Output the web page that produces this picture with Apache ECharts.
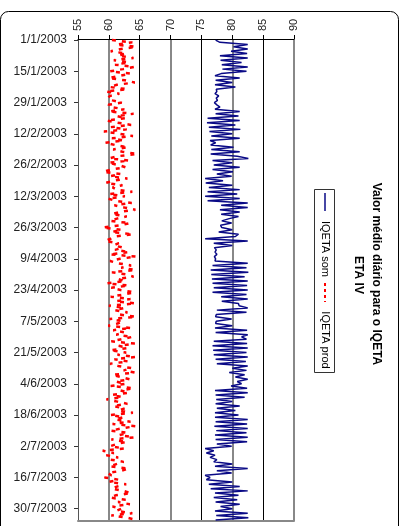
<!DOCTYPE html>
<html>
<head>
<meta charset="utf-8">
<script src="https://cdn.jsdelivr.net/npm/echarts@6/dist/echarts.min.js"></script>
<style>
  html, body { margin: 0; padding: 0; background: #fff; }
  #chart { width: 402px; height: 526px; }
</style>
</head>
<body>
<div id="chart"></div>
<script>
// Daily mean IQETA values, ETA IV, from 1/1/2003 (216 days)
const startDay = Date.UTC(2003, 0, 1);
const dayCount = 216;
const dates = [];
for (let i = 0; i < dayCount; i++) {
  const d = new Date(startDay + i * 86400000);
  dates.push(d.getUTCDate() + '/' + (d.getUTCMonth() + 1) + '/' + d.getUTCFullYear());
}

const seriesNames = ['IQETA som', 'IQETA prod'];
const valueTicks = [55, 60, 65, 70, 75, 80, 85, 90];

const iqetaSom = [
  77.3, 78.0, 82.5, 80.2, 82.5, 79.8, 82.4, 78.0, 82.5, 78.1,
  81.5, 78.3, 82.5, 78.4, 82.3, 78.2, 77.2, 81.2, 77.3, 80.0,
  77.2, 80.5, 77.4, 77.5, 77.2, 77.8, 77.4, 77.6, 77.1, 77.5,
  78.0, 77.2, 81.2, 77.3, 81.0, 76.0, 81.2, 75.9, 80.5, 76.2,
  81.3, 76.3, 80.0, 76.6, 81.2, 76.4, 77.3, 76.5, 80.2, 76.6,
  81.2, 76.5, 80.8, 82.6, 76.8, 80.0, 77.0, 81.2, 76.8, 80.1,
  77.5, 79.9, 75.6, 78.5, 75.7, 80.0, 76.2, 81.2, 76.0, 80.8,
  75.6, 81.2, 76.0, 82.5, 78.2, 82.5, 78.0, 81.2, 78.2, 81.0,
  79.5, 78.3, 79.9, 78.1, 78.3, 80.0, 77.8, 81.0, 80.5, 75.6,
  82.5, 77.0, 80.0, 77.1, 77.4, 77.2, 77.5, 77.1, 77.3, 77.2,
  82.5, 76.8, 82.3, 76.5, 82.6, 76.6, 82.0, 76.7, 82.5, 76.8,
  82.4, 77.0, 82.5, 76.8, 82.3, 78.2, 82.5, 78.3, 81.0, 81.1,
  82.5, 77.5, 82.3, 77.4, 77.3, 79.9, 77.4, 77.3, 80.0, 77.2,
  82.4, 77.3, 82.5, 81.5, 82.3, 77.0, 82.4, 76.8, 82.5, 76.9,
  82.3, 77.0, 82.5, 77.3, 82.2, 77.5, 82.5, 80.0, 82.3, 79.5,
  82.0, 80.5, 82.5, 80.8, 81.5, 79.8, 82.4, 77.2, 82.5, 77.3,
  82.0, 77.4, 80.0, 77.3, 81.2, 77.5, 80.5, 77.2, 81.0, 77.2,
  82.5, 77.3, 82.4, 77.1, 82.5, 77.4, 82.3, 77.2, 82.5, 77.3,
  82.4, 77.5, 79.9, 75.6, 77.0, 75.8, 77.2, 76.4, 77.5, 77.0,
  80.0, 77.2, 82.5, 77.5, 79.9, 75.6, 76.4, 75.8, 80.0, 76.2,
  81.2, 76.5, 82.5, 77.2, 81.0, 77.0, 80.8, 77.3, 81.2, 78.1,
  80.0, 77.2, 82.5, 77.4, 82.6, 77.3
];

const iqetaProd = [
  60.5, 63.8, 61.2, 64.4, 62.0, 60.3, 62.8, 61.5, 64.0, 60.8,
  63.2, 61.0, 64.1, 62.3, 60.2, 63.5, 61.8, 60.0, 62.6, 64.2,
  61.3, 60.1, 63.0, 59.5, 61.7, 60.2, 59.8, 60.6, 62.1, 59.9,
  60.4, 62.5, 60.0, 64.0, 61.2, 62.8, 59.6, 61.4, 63.6, 60.3,
  62.9, 59.2, 61.8, 63.9, 60.5, 62.4, 59.4, 61.0, 63.1, 60.7,
  62.2, 64.6, 61.5, 60.1, 63.3, 59.9, 61.6, 62.7, 60.4, 59.1,
  61.9, 60.2, 63.0, 60.8, 59.5, 62.2, 60.6, 61.3, 63.8, 60.0,
  62.6, 59.8, 61.1, 63.7, 60.9, 62.5, 64.3, 61.7, 60.5, 62.9,
  61.3, 60.2, 63.4, 61.8, 59.0, 62.1, 60.4, 63.9, 61.0, 60.3,
  59.4, 61.6, 60.8, 62.3, 61.0, 63.3, 60.1, 64.4, 61.8, 60.2,
  61.5, 63.6, 62.0, 64.3, 60.5, 62.8, 64.0, 61.4, 62.6, 59.7,
  63.2, 60.4, 61.9, 64.1, 62.4, 60.3, 63.5, 61.1, 64.3, 60.0,
  62.6, 60.9, 63.0, 61.8, 64.4, 60.1, 62.3, 61.4, 59.9, 63.6,
  60.7, 62.5, 61.2, 63.8, 62.1, 60.4, 64.2, 61.6, 63.0, 60.2,
  62.8, 61.4, 64.3, 60.9, 63.1, 60.2, 61.5, 63.7, 62.4, 64.2,
  60.6, 62.0, 63.4, 61.1, 62.7, 60.3, 64.0, 61.9, 63.2, 60.5,
  62.2, 59.6, 61.4, 63.0, 60.7, 62.6, 61.5, 63.9, 60.2, 62.4,
  61.0, 63.5, 60.6, 64.3, 62.1, 60.3, 63.0, 61.7, 64.1, 60.4,
  62.9, 61.3, 60.2, 62.5, 59.0, 60.8, 59.6, 61.5, 60.3, 62.4,
  61.2, 60.1, 63.2, 62.0, 59.8, 60.4, 59.3, 61.6, 60.0, 62.8,
  61.4, 60.5, 62.3, 63.6, 61.1, 60.2, 62.7, 61.5, 63.4, 60.6,
  62.0, 61.2, 63.8, 60.4, 62.9, 64.5
];

const FONT = '"Liberation Sans", Arial, sans-serif';
const SOM_COLOR = '#0a0a86';
const PROD_COLOR = '#ff0000';
const PROD_DASH = [4, 6];
const LEGEND_DASH = [3, 3];

const chart = echarts.init(document.getElementById('chart'), null, { renderer: 'canvas' });

const option = {
  animation: false,
  backgroundColor: '#ffffff',
  textStyle: { fontFamily: FONT },
  grid: { left: 78, top: 39, width: 216, height: 482, containLabel: false },
  xAxis: [
    {
      type: 'value',
      position: 'top',
      min: valueTicks[0],
      max: valueTicks[valueTicks.length - 1],
      interval: 5,
      axisLine: { show: true, lineStyle: { color: '#000', width: 1 } },
      axisTick: { show: true, inside: false, length: 4, lineStyle: { color: '#000' } },
      axisLabel: {
        rotate: -90,
        margin: 8,
        color: '#222',
        fontSize: 11,
        fontFamily: FONT
      },
      splitLine: { show: true, lineStyle: { color: ['#000', 'rgba(0,0,0,0)'], width: 1 } }
    },
    {
      type: 'value',
      position: 'bottom',
      min: valueTicks[0],
      max: valueTicks[valueTicks.length - 1],
      interval: 5,
      axisLine: { show: true, lineStyle: { color: '#888', width: 2 } },
      axisTick: { show: false },
      axisLabel: { show: false },
      splitLine: { show: true, lineStyle: { color: ['rgba(0,0,0,0)', '#888'], width: 2 } }
    }
  ],
  yAxis: {
    type: 'category',
    data: dates,
    inverse: true,
    boundaryGap: true,
    axisLine: { show: true, lineStyle: { color: '#555', width: 1 } },
    axisTick: { show: true, alignWithLabel: true, interval: 13, length: 4, lineStyle: { color: '#333' } },
    axisLabel: {
      interval: 13,
      margin: 11,
      color: '#222',
      fontSize: 12,
      fontFamily: FONT
    },
    splitLine: { show: false }
  },
  series: [
    {
      name: seriesNames[0],
      type: 'line',
      xAxisIndex: 0,
      data: iqetaSom,
      showSymbol: false,
      symbol: 'none',
      lineStyle: { color: SOM_COLOR, width: 1.5 },
      z: 3
    },
    {
      name: seriesNames[1],
      type: 'line',
      xAxisIndex: 0,
      data: iqetaProd,
      showSymbol: false,
      symbol: 'none',
      lineStyle: { color: PROD_COLOR, width: 2.5, type: PROD_DASH },
      z: 3
    }
  ],
  graphic: [
    // outer chart frame
    {
      type: 'rect',
      silent: true,
      z: -1,
      shape: { x: 0.5, y: 11.5, width: 398, height: 540, r: 8 },
      style: { fill: 'none', stroke: '#000', lineWidth: 1 }
    },
    // title, read top to bottom
    {
      type: 'text',
      x: 376, y: 274,
      rotation: -Math.PI / 2,
      style: {
        text: 'Valor médio diário para o IQETA',
        font: 'bold 12px ' + FONT,
        fill: '#000',
        align: 'center',
        verticalAlign: 'middle'
      }
    },
    {
      type: 'text',
      x: 358, y: 275,
      rotation: -Math.PI / 2,
      style: {
        text: 'ETA IV',
        font: 'bold 12px ' + FONT,
        fill: '#000',
        align: 'center',
        verticalAlign: 'middle'
      }
    },
    // legend box
    {
      type: 'rect',
      shape: { x: 314.5, y: 189.5, width: 20, height: 183 },
      style: { fill: '#fff', stroke: '#333', lineWidth: 1 }
    },
    {
      type: 'line',
      shape: { x1: 325, y1: 193, x2: 325, y2: 211 },
      style: { stroke: SOM_COLOR, lineWidth: 1.5 }
    },
    {
      type: 'text',
      x: 325, y: 249,
      rotation: -Math.PI / 2,
      style: {
        text: seriesNames[0],
        font: '11px ' + FONT,
        fill: '#000',
        align: 'center',
        verticalAlign: 'middle'
      }
    },
    {
      type: 'line',
      shape: { x1: 325, y1: 283, x2: 325, y2: 302 },
      style: { stroke: PROD_COLOR, lineWidth: 2, lineDash: LEGEND_DASH }
    },
    {
      type: 'text',
      x: 325, y: 340,
      rotation: -Math.PI / 2,
      style: {
        text: seriesNames[1],
        font: '11px ' + FONT,
        fill: '#000',
        align: 'center',
        verticalAlign: 'middle'
      }
    }
  ]
};

chart.setOption(option);
</script>
</body>
</html>
